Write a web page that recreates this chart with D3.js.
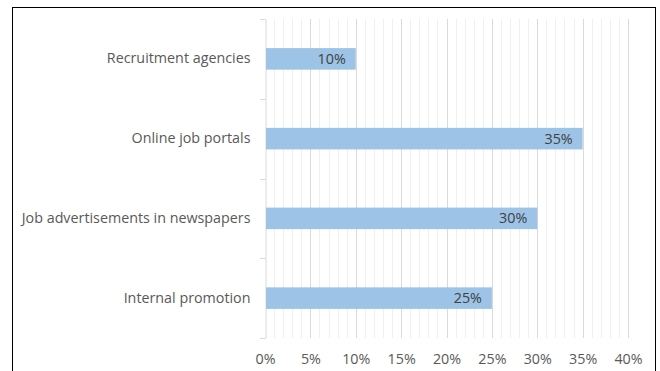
<!DOCTYPE html>
<html>
<head>
<meta charset="utf-8">
<script src="https://cdn.jsdelivr.net/npm/d3@7"></script>
<style>
  html, body { margin: 0; padding: 0; background: #fff; }
  svg { display: block; font-family: "Open Sans", sans-serif; }
</style>
</head>
<body>
<svg id="chart" width="660" height="371"></svg>
<script>
// Recruitment channels and their share
const categories = ["Recruitment agencies", "Online job portals", "Job advertisements in newspapers", "Internal promotion"];
const shares = [10, 35, 30, 25];
const majorTicks = [0, 5, 10, 15, 20, 25, 30, 35, 40];

const svg = d3.select("#chart");
const FONT = "'Open Sans', sans-serif";
const FS = "14.3px";

// chart frame
svg.append("rect")
  .attr("x", 12.5).attr("y", 7.5)
  .attr("width", 643).attr("height", 380)
  .attr("fill", "none").attr("stroke", "#000").attr("stroke-width", 1);

const plot = { left: 265, right: 628, top: 19, bottom: 338 };

const x = d3.scaleLinear().domain([0, 40]).range([plot.left, plot.right]);
const y = d3.scaleBand().domain(categories).range([plot.top, plot.bottom]).paddingInner(0.73).paddingOuter(0.365);
const yb = d3.scaleBand().domain(categories).range([plot.top, plot.bottom]);

// minor gridlines every 1%
const minor = d3.range(1, 41).filter(v => v % 5 !== 0);
svg.append("g").selectAll("line").data(minor).join("line")
  .attr("x1", d => Math.round(x(d)) + 0.5).attr("x2", d => Math.round(x(d)) + 0.5)
  .attr("y1", plot.top).attr("y2", plot.bottom)
  .attr("stroke", "#efefef").attr("stroke-width", 1);

// major gridlines every 5%
svg.append("g").selectAll("line").data(majorTicks.filter(v => v > 0)).join("line")
  .attr("x1", d => Math.round(x(d)) + 0.5).attr("x2", d => Math.round(x(d)) + 0.5)
  .attr("y1", plot.top).attr("y2", plot.bottom)
  .attr("stroke", "#d9d9d9").attr("stroke-width", 1);

// category axis
const yAxis = d3.axisLeft(yb).tickSize(0).tickPadding(15);
const ga = svg.append("g").attr("transform", `translate(${plot.left + 0.5},0)`).call(yAxis);
ga.select(".domain").attr("stroke", "#d9d9d9");
ga.selectAll("text").attr("fill", "#595959").style("font-size", FS).style("font-family", FONT);
// tick marks between categories
const bounds = categories.map(c => yb(c)).concat([plot.bottom]);
svg.append("g").selectAll("line").data(bounds).join("line")
  .attr("x1", plot.left - 5).attr("x2", plot.left + 0.5)
  .attr("y1", d => Math.round(d) + 0.5).attr("y2", d => Math.round(d) + 0.5)
  .attr("stroke", "#d9d9d9");

// bars
const data = categories.map((c, i) => ({ c, v: shares[i] }));
svg.append("g").selectAll("rect").data(data).join("rect")
  .attr("x", x(0) + 1).attr("y", d => y(d.c))
  .attr("width", d => x(d.v) - x(0) - 1).attr("height", y.bandwidth())
  .attr("fill", "#9dc3e6");

// value labels inside bar ends
svg.append("g").selectAll("text").data(data).join("text")
  .attr("x", d => x(d.v) - 10).attr("y", d => y(d.c) + y.bandwidth() / 2)
  .attr("dy", "0.35em").attr("text-anchor", "end")
  .attr("fill", "#404040").style("font-size", FS).style("font-family", FONT)
  .text(d => d.v + "%");

// value axis labels
const xAxis = d3.axisBottom(x).tickValues(majorTicks).tickSize(0).tickPadding(16).tickFormat(d => d + "%");
const gx = svg.append("g").attr("transform", `translate(0,${plot.bottom})`).call(xAxis);
gx.select(".domain").remove();
gx.selectAll("text").attr("fill", "#595959").style("font-size", FS).style("font-family", FONT);
</script>
</body>
</html>
